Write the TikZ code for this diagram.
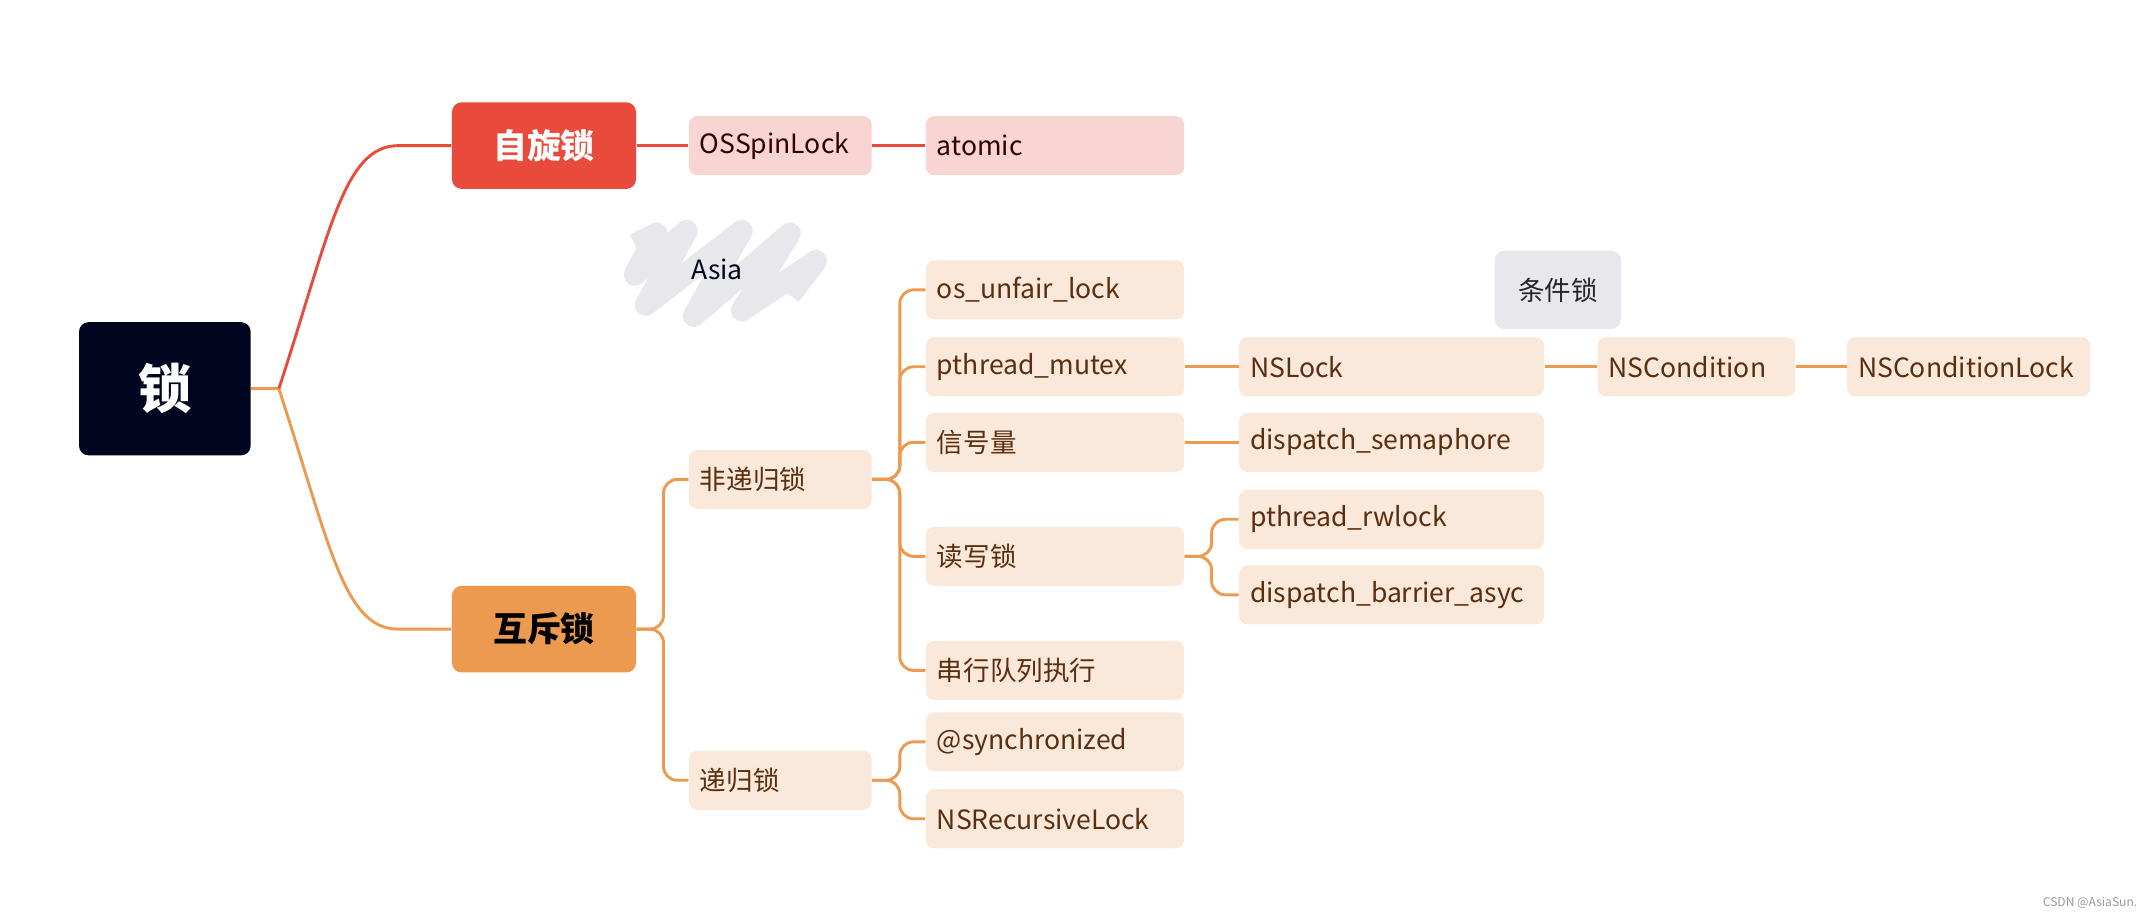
\documentclass[tikz,border=0pt]{standalone}
\usepackage{fontspec}
\setmainfont{Noto Sans CJK SC}
\usepackage{tikz}
\definecolor{rootc}{HTML}{000620}
\definecolor{spinc}{HTML}{E84B3C}
\definecolor{mutexc}{HTML}{EC9A50}
\definecolor{spinleaf}{HTML}{F8D5D2}
\definecolor{mutexleaf}{HTML}{FAE8DA}
\definecolor{leaftext}{HTML}{5A2E0E}
\definecolor{greyc}{HTML}{E8E8EC}
\begin{document}
\begin{tikzpicture}[x=0.02cm,y=-0.02cm,
    every node/.style={font=\fontsize{11}{13}\selectfont},
    box/.style={rounded corners=0.12cm,minimum height=0.86cm,inner xsep=0.16cm,text width=#1,align=left,fill=mutexleaf,text=leaftext},
    spinbox/.style={box=#1,fill=spinleaf,text=black!80!red},
    main/.style={rounded corners=0.14cm,minimum width=2.68cm,minimum height=1.26cm,font=\fontsize{14}{16}\selectfont\bfseries},
    link/.style={mutexc,line width=1.2pt,rounded corners=0.2cm},
    spinlink/.style={spinc,line width=1.2pt,rounded corners=0.2cm}]
    \useasboundingbox (0,0) rectangle (1568,668);
    % main nodes
    \node [main,fill=rootc,text=white,minimum width=2.5cm,minimum height=1.94cm,font=\fontsize{22}{24}\selectfont\bfseries] (lock) at (120,283) {锁};
    \node [main,fill=spinc,text=white] (spin) at (396,106) {自旋锁};
    \node [main,fill=mutexc,text=black] (mutex) at (396,458) {互斥锁};
    % spin branch
    \node [spinbox=2.34cm] (osspin) at (568,106) {OSSpinLock};
    \node [spinbox=3.44cm] (atomic) at (768,106) {atomic};
    % mutex branch
    \node [box=2.34cm] (nonrec) at (568,349) {非递归锁};
    \node [box=2.34cm] (rec) at (568,568) {递归锁};
    \node [box=3.44cm] (unfair) at (768,211) {os\_unfair\_lock};
    \node [box=3.44cm] (pmutex) at (768,267) {pthread\_mutex};
    \node [box=3.44cm] (sema) at (768,322) {信号量};
    \node [box=3.44cm] (rw) at (768,405) {读写锁};
    \node [box=3.44cm] (serial) at (768,488) {串行队列执行};
    \node [box=3.44cm] (sync) at (768,540) {@synchronized};
    \node [box=3.44cm] (nsrec) at (768,596) {NSRecursiveLock};
    \node [box=4.12cm] (nslock) at (1013,267) {NSLock};
    \node [box=4.12cm] (dsema) at (1013,322) {dispatch\_semaphore};
    \node [box=4.12cm] (prw) at (1013,378) {pthread\_rwlock};
    \node [box=4.12cm] (barrier) at (1013,433) {dispatch\_barrier\_asyc};
    \node [box=2.56cm] (nscond) at (1235,267) {NSCondition};
    \node [box=3.22cm] (nscondlock) at (1433,267) {NSConditionLock};
    \node [rounded corners=0.14cm,fill=greyc,minimum width=1.84cm,minimum height=1.14cm,text=black!85] (cond) at (1134,211) {条件锁};
    % Asia scribble
    \draw [greyc,line width=0.32cm,line join=round] (462,178) -- (478,170) -- (462,200) -- (500,168) -- (470,222)
        -- (540,168) -- (505,230) -- (575,170) -- (540,226) -- (594,190) -- (575,215);
    \node [text=rootc] (asia) at (522,196) {Asia};
    % connectors
    \draw [mutexc,line width=1.2pt] (lock.east) -- (203,283) coordinate (fork);
    \draw [spinlink] (fork) .. controls (240,170) and (250,106) .. (300,106) -- (spin.west);
    \draw [link] (fork) .. controls (240,396) and (250,458) .. (300,458) -- (mutex.west);
    \draw [spinlink] (spin.east) -- (osspin.west);
    \draw [spinlink] (osspin.east) -- (atomic.west);
    \foreach \c in {nonrec,rec}
        \draw [link] (mutex.east) -- (483,458) |- (\c.west);
    \foreach \c in {unfair,pmutex,sema,rw,serial}
        \draw [link] (nonrec.east) -- (655,349) |- (\c.west);
    \foreach \c in {sync,nsrec}
        \draw [link] (rec.east) -- (655,568) |- (\c.west);
    \foreach \c in {prw,barrier}
        \draw [link] (rw.east) -- (882,405) |- (\c.west);
    \draw [link] (pmutex.east) -- (nslock.west);
    \draw [link] (sema.east) -- (dsema.west);
    \draw [link] (nslock.east) -- (nscond.west);
    \draw [link] (nscond.east) -- (nscondlock.west);
    \node [text=black!40,font=\fontsize{5}{6}\selectfont,anchor=east] (mark) at (1562,657) {CSDN @AsiaSun.};
\end{tikzpicture}
\end{document}
